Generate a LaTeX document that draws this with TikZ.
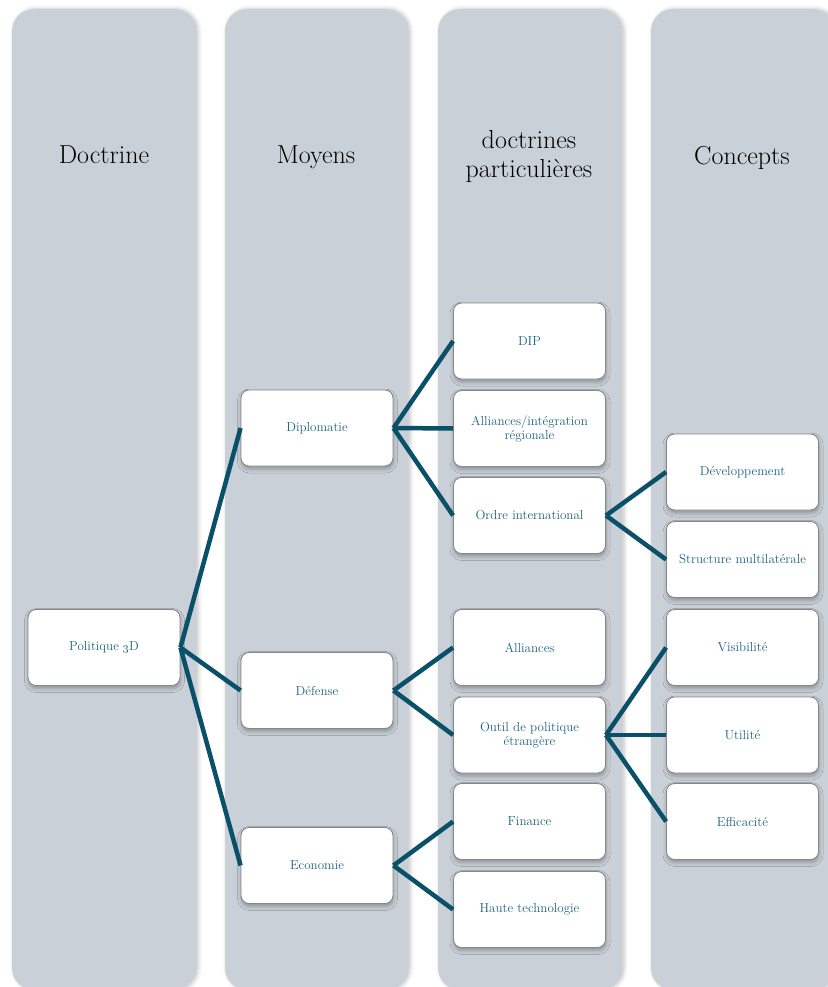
\documentclass[tikz,border=0pt]{standalone}
\usetikzlibrary{shadows.blur}
\definecolor{lanebg}{RGB}{201,208,215}
\definecolor{boxtext}{RGB}{30,100,126}
\definecolor{linkcol}{RGB}{10,80,104}
\definecolor{boxline}{RGB}{135,135,135}
\begin{document}
\begin{tikzpicture}[x=1pt,y=-1pt,
  lane/.style={fill=lanebg, rounded corners=22pt,
    blur shadow={shadow xshift=2pt, shadow yshift=0pt, shadow blur radius=4pt, shadow opacity=25}},
  lanetitle/.style={anchor=base, align=center, text=black, inner sep=0pt,
    font=\fontsize{26}{29}\selectfont},
  item/.style={draw=boxline, line width=0.9pt, fill=white, rounded corners=8pt,
    minimum width=152pt, minimum height=76pt, inner sep=2pt, align=center,
    text=boxtext, font=\fontsize{13}{14}\selectfont,
    blur shadow={shadow xshift=0.5pt, shadow yshift=-3pt, shadow blur radius=4pt, shadow opacity=30}},
  link/.style={draw=linkcol, line width=4.5pt}]

\useasboundingbox (0,0) rectangle (827,987);

% four vertical lanes
\path[lane] (12,9)  rectangle (196,990);
\path[lane] (225,9) rectangle (408,990);
\path[lane] (438,9) rectangle (622,990);
\path[lane] (651,9) rectangle (835,990);

% lane headings (base anchor sits on the last line)
\node[lanetitle] (hdoc) at (104,164) {Doctrine};
\node[lanetitle] (hmoy) at (316,164) {Moyens};
\node[lanetitle] (hpar) at (529,178) {doctrines\\particulières};
\node[lanetitle] (hcon) at (742,165) {Concepts};

% root
\node[item] (p3d) at (104,647.5) {Politique \oldstylenums{3}D};

% means
\node[item] (dip) at (317,428)   {Diplomatie};
\node[item] (def) at (317,690.5) {Défense};
\node[item] (eco) at (317,865.5) {Economie};

% particular doctrines
\node[item] (dipd)  at (529.5,341)   {DIP};
\node[item] (alreg) at (529.5,428.5) {Alliances/intégration\\régionale};
\node[item] (ordre) at (529.5,515.5) {Ordre international};
\node[item] (allia) at (529.5,647.5) {Alliances};
\node[item] (outil) at (529.5,735)   {Outil de politique\\étrangère};
\node[item] (fin)   at (529.5,821.5) {Finance};
\node[item] (haute) at (529.5,909.5) {Haute technologie};

% concepts
\node[item] (dev)    at (742.5,472)   {Développement};
\node[item] (struct) at (742.5,559.5) {Structure multilatérale};
\node[item] (vis)    at (742.5,647.5) {Visibilité};
\node[item] (uti)    at (742.5,735)   {Utilité};
\node[item] (eff)    at (742.5,821.5) {Efficacité};

% connectors
\foreach \a/\b in {p3d/dip, p3d/def, p3d/eco,
                   dip/dipd, dip/alreg, dip/ordre,
                   def/allia, def/outil,
                   eco/fin, eco/haute,
                   ordre/dev, ordre/struct,
                   outil/vis, outil/uti, outil/eff}
  \draw[link] (\a.east) -- (\b.west);

\end{tikzpicture}
\end{document}
